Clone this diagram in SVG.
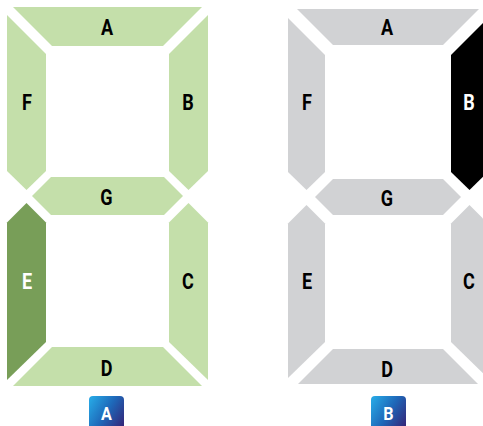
<svg xmlns="http://www.w3.org/2000/svg" width="483" height="426" viewBox="0 0 483 426">
  <defs>
    <linearGradient id="badgeGrad" x1="0" y1="0.2" x2="1" y2="0.8">
      <stop offset="0" stop-color="#26a4e2"/>
      <stop offset="0.5" stop-color="#1e67b8"/>
      <stop offset="1" stop-color="#33297c"/>
    </linearGradient>
  </defs>
  <style>
    .on-light { fill: #c4dfaa; }
    .on-dark { fill: #789e58; }
    .off { fill: #d1d2d4; }
    .black { fill: #000000; }
    .lbl { font-family: "Roboto", "Liberation Sans", sans-serif; font-weight: bold; font-size: 22px; text-anchor: middle; fill: #000000; }
    .lbl-w { fill: #ffffff; }
    .badge { fill: url(#badgeGrad); }
    .badge-t { font-family: "Roboto", "Liberation Sans", sans-serif; font-weight: bold; font-size: 19px; text-anchor: middle; fill: #ffffff; }
  </style>

  <!-- Left display -->
  <g id="left-display">
    <g id="L-A">
      <polygon class="on-light" points="13,7 202,7 163,46 52,46"/>
      <text class="lbl" transform="translate(107,35) scale(0.82,1)">A</text>
    </g>
    <g id="L-F">
      <polygon class="on-light" points="7,15 46,54 46,171 26.5,190 7,171"/>
      <text class="lbl" transform="translate(27,110) scale(0.82,1)">F</text>
    </g>
    <g id="L-B">
      <polygon class="on-light" points="208,15 208,171 188.5,190 169,171 169,54"/>
      <text class="lbl" transform="translate(188,110) scale(0.82,1)">B</text>
    </g>
    <g id="L-G">
      <polygon class="on-light" points="32,196 51,177 164,177 183,196 164,215 51,215"/>
      <text class="lbl" transform="translate(106.5,205) scale(0.82,1)">G</text>
    </g>
    <g id="L-E">
      <polygon class="on-dark" points="26.5,203 46,222.5 46,342 7,380 7,222.5"/>
      <text class="lbl lbl-w" transform="translate(27,289) scale(0.82,1)">E</text>
    </g>
    <g id="L-C">
      <polygon class="on-light" points="188.5,203 208,222.5 208,380 169,342 169,222.5"/>
      <text class="lbl" transform="translate(188,289) scale(0.82,1)">C</text>
    </g>
    <g id="L-D">
      <polygon class="on-light" points="52,347 163,347 202,386 13,386"/>
      <text class="lbl" transform="translate(106.5,376) scale(0.82,1)">D</text>
    </g>
  </g>

  <!-- Right display -->
  <g id="right-display">
    <g id="R-A">
      <polygon class="off" points="297,9 479,9 443,45 333,45"/>
      <text class="lbl" transform="translate(387,35) scale(0.82,1)">A</text>
    </g>
    <g id="R-F">
      <polygon class="off" points="288,18 325,55 325,172 306.5,190 288,172"/>
      <text class="lbl" transform="translate(307,110) scale(0.82,1)">F</text>
    </g>
    <g id="R-B">
      <polygon class="black" points="451,55 488,18 488,172 469.5,190 451,172"/>
      <text class="lbl lbl-w" transform="translate(469,110) scale(0.82,1)">B</text>
    </g>
    <g id="R-G">
      <polygon class="off" points="315,197 333,179 443,179 461,197 443,215 333,215"/>
      <text class="lbl" transform="translate(387,206) scale(0.82,1)">G</text>
    </g>
    <g id="R-E">
      <polygon class="off" points="306.5,205 325,223.5 325,342 288,378 288,223.5"/>
      <text class="lbl" transform="translate(307,289) scale(0.82,1)">E</text>
    </g>
    <g id="R-C">
      <polygon class="off" points="469.5,205 488,223.5 488,378 451,342 451,223.5"/>
      <text class="lbl" transform="translate(469,289) scale(0.82,1)">C</text>
    </g>
    <g id="R-D">
      <polygon class="off" points="333,349 443,349 478,384 298,384"/>
      <text class="lbl" transform="translate(387,377) scale(0.82,1)">D</text>
    </g>
  </g>

  <!-- Badges -->
  <g id="badge-A">
    <rect class="badge" x="89" y="396" width="35" height="34" rx="4" ry="4"/>
    <text class="badge-t" transform="translate(106.5,420) scale(0.85,1)">A</text>
  </g>
  <g id="badge-B">
    <rect class="badge" x="371" y="396" width="35" height="34" rx="4" ry="4"/>
    <text class="badge-t" transform="translate(388.5,420) scale(0.85,1)">B</text>
  </g>
</svg>
